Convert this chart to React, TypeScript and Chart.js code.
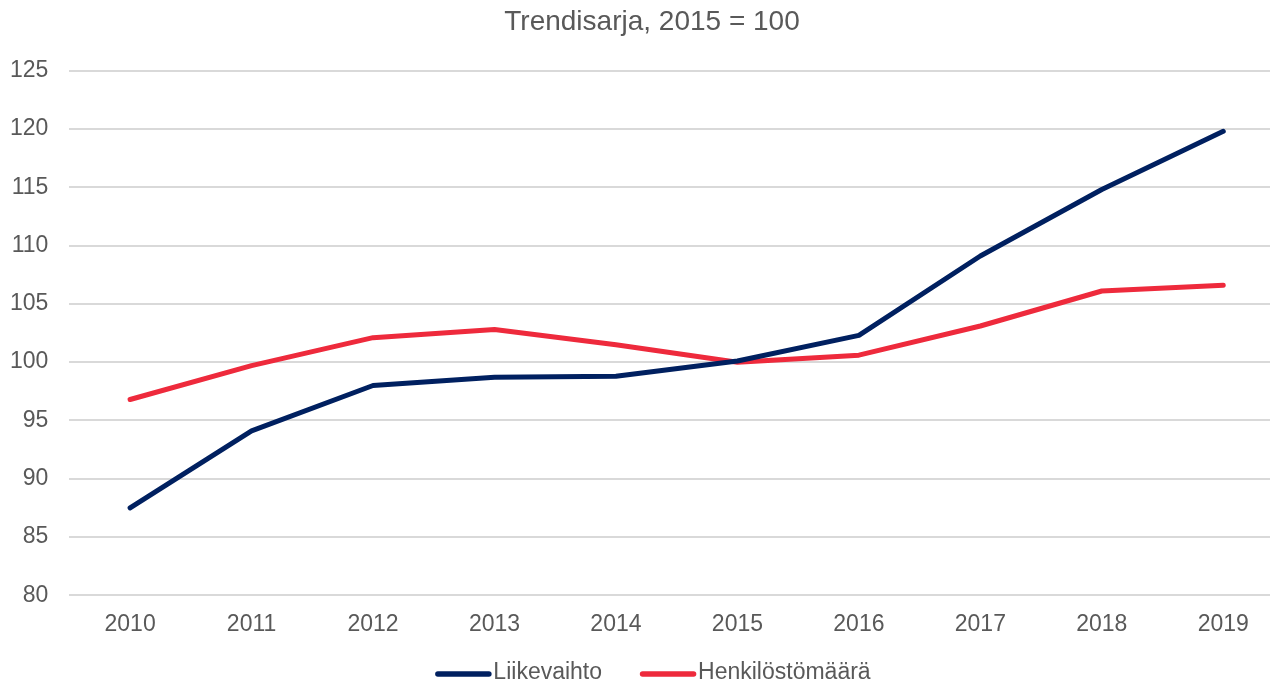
import React, { useEffect, useRef } from "react";
import { Chart, registerables } from "chart.js";

Chart.register(...registerables);

const years = ["2010", "2011", "2012", "2013", "2014", "2015", "2016", "2017", "2018", "2019"];
const liikevaihto = [87.5, 94.1, 98.0, 98.7, 98.8, 100.1, 102.3, 109.1, 114.8, 119.8];
const henkilosto = [96.8, 99.7, 102.1, 102.8, 101.5, 100.0, 100.6, 103.1, 106.1, 106.6];
const titleText = "Trendisarja, 2015 = 100";

const SHIFT = 11; // canvas is placed SHIFT px left of the page edge
const FONT = "'Liberation Sans', Arial, sans-serif";
const TEXT = "#595959";

const titleShift = {
  id: "titleShift",
  afterLayout(chart: any) {
    const t = chart.titleBlock;
    if (t) {
      t.left = 20 + SHIFT;
      t.right = chart.width;
    }
  },
};

const lineLegend = {
  id: "lineLegend",
  afterDraw(chart: any) {
    const ctx = chart.ctx;
    ctx.save();
    ctx.font = `23px ${FONT}`;
    const lineW = 51;
    const gapText = 7;
    const gapItem = 38;
    const items = chart.data.datasets.map((d: any) => ({
      text: d.label,
      color: d.borderColor,
      w: ctx.measureText(d.label).width,
    }));
    const total =
      items.reduce((s: number, it: any) => s + lineW + gapText + it.w, 0) + gapItem * (items.length - 1);
    let x = 653 + SHIFT - total / 2;
    const y = 674;
    items.forEach((it: any) => {
      ctx.strokeStyle = it.color;
      ctx.lineWidth = 5.5;
      ctx.lineCap = "round";
      ctx.beginPath();
      ctx.moveTo(x + 2.5, y);
      ctx.lineTo(x + lineW + 2.5, y);
      ctx.stroke();
      x += lineW + gapText;
      ctx.fillStyle = TEXT;
      ctx.textBaseline = "middle";
      ctx.textAlign = "left";
      ctx.fillText(it.text, x, y - 1);
      x += it.w + gapItem;
    });
    ctx.restore();
  },
};

export default function App() {
  const ref = useRef<HTMLCanvasElement | null>(null);
  useEffect(() => {
    if (!ref.current) return;
    const chart = new Chart(ref.current, {
      type: "line",
      data: {
        labels: years,
        datasets: [
          {
            label: "Liikevaihto",
            data: liikevaihto,
            borderColor: "#002060",
            backgroundColor: "#002060",
            borderWidth: 5,
            borderCapStyle: "round",
            borderJoinStyle: "round",
            pointRadius: 0,
            tension: 0,
          },
          {
            label: "Henkilöstömäärä",
            data: henkilosto,
            borderColor: "#EE2A3C",
            backgroundColor: "#EE2A3C",
            borderWidth: 5,
            borderCapStyle: "round",
            borderJoinStyle: "round",
            pointRadius: 0,
            tension: 0,
          },
        ],
      },
      options: {
        animation: false,
        responsive: false,
        maintainAspectRatio: false,
        layout: { padding: { left: 0, right: 0, top: 5, bottom: 30 } },
        plugins: {
          title: {
            display: true,
            text: titleText,
            color: TEXT,
            font: { family: FONT, size: 28, weight: "normal" },
            padding: { top: 0, bottom: 32 },
          },
          legend: { display: false },
          tooltip: { enabled: false },
        },
        scales: {
          x: {
            offset: true,
            grid: { display: false, drawTicks: false },
            border: { display: false },
            ticks: { color: TEXT, font: { family: FONT, size: 23 }, padding: 15 },
          },
          y: {
            min: 80,
            max: 125,
            grid: { color: "#d9d9d9", lineWidth: 2, drawTicks: false },
            border: { display: false },
            ticks: { stepSize: 5, color: TEXT, font: { family: FONT, size: 23 }, padding: 21 },
          },
        },
      },
      plugins: [titleShift, lineLegend],
    });
    return () => chart.destroy();
  }, []);
  return (
    <div style={{ position: "fixed", left: 0, top: 0, width: 1270, height: 683, background: "#fff", overflow: "hidden" }}>
      <canvas
        ref={ref}
        width={1284 + SHIFT}
        height={683}
        style={{ position: "absolute", left: -SHIFT, top: 0 }}
      />
    </div>
  );
}
